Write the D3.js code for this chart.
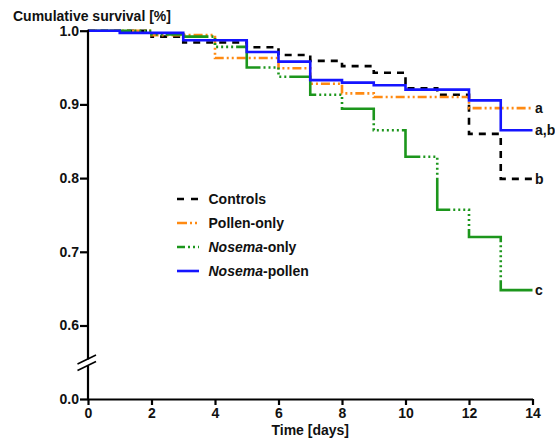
<!DOCTYPE html>
<html><head><meta charset="utf-8">
<script src="https://cdn.jsdelivr.net/npm/d3@7"></script>
<style>body{margin:0;background:#fff}svg text{font-family:"Liberation Sans",Arial,sans-serif;font-weight:bold;fill:#111}</style>
</head><body><svg id="c" width="555" height="439"></svg>
<script>
// ---- data ----
const days = [0,1,2,3,4,5,6,7,8,9,10,11,12,13,14];
const controls     = [1,1,0.992,0.984,0.984,0.9775,0.967,0.959,0.952,0.943,0.922,0.913,0.860,0.799,0.799];
const pollenOnly   = [1,1,0.994,0.994,0.963,0.963,0.949,0.928,0.915,0.910,0.910,0.910,0.895,0.895,0.895];
const nosemaOnly   = [1,1,0.995,0.992,0.978,0.950,0.9375,0.913,0.894,0.865,0.829,0.757,0.720,0.648,0.648];
const nosemaPollen = [1,0.997,0.997,0.987,0.987,0.971,0.958,0.933,0.9295,0.926,0.920,0.920,0.9055,0.865,0.865];
const seriesNames  = ["Controls","Pollen-only","Nosema-only","Nosema-pollen"];
const sigLabels    = ["b","a","c","a,b"];
const xTicks = [0,2,4,6,8,10,12,14];
const yTicksUpper = [0.6,0.7,0.8,0.9,1.0];
const yTicksLower = [0.0];

// ---- layout ----
const svg = d3.select("#c");
const x = d3.scaleLinear().domain([0,14]).range([88,532.5]);
const yU = d3.scaleLinear().domain([0.6,1.0]).range([325.5,30.7]);
const yL = d3.scaleLinear().domain([0,0.1]).range([399,372]);
const axisX = 88, axisY = 399;

const styles = [
  {color:"#000000", dash:"7,6", legendDash:"7,7"},
  {color:"#ff8a12", dash:"9,3,2,3,2,3", legendDash:"10,3,2,3,2,3"},
  {color:"#1c961c", dash:"45,3,2,3,2,3,2,3,2,3,2,3,2,3,2,3", legendDash:"8,3,2,3,2,3,2,3"},
  {color:"#1515ff", dash:null, legendDash:null}
];
const allSeries = [controls,pollenOnly,nosemaOnly,nosemaPollen];

// ---- curves ----
const line = d3.line().x((d,i)=>x(days[i])).y(d=>yU(d)).curve(d3.curveStepAfter);
// green phase: solid run begins 20px past the day-6 corner
const LA = (x(6)-x(0)) + (yU(nosemaOnly[5]) - yU(1)) + 20;
const greenPeriod = 83;
allSeries.forEach((s,k)=>{
  const p = svg.append("path").attr("d", line(s)).attr("fill","none")
    .attr("stroke", styles[k].color).attr("stroke-width", 2.6);
  if (styles[k].dash) p.attr("stroke-dasharray", styles[k].dash);
  if (k===2) p.attr("stroke-dashoffset", greenPeriod - (LA % greenPeriod));
});

// ---- axes ----
const gx = svg.append("g").attr("transform",`translate(0,${axisY})`)
  .call(d3.axisBottom(x).tickValues(xTicks).tickFormat(d3.format("d")).tickSize(6).tickSizeOuter(0).tickPadding(3));
const gyU = svg.append("g").attr("transform",`translate(${axisX},0)`)
  .call(d3.axisLeft(yU).tickValues(yTicksUpper).tickFormat(d3.format(".1f")).tickSize(8).tickPadding(1));
const gyL = svg.append("g").attr("transform",`translate(${axisX},0)`)
  .call(d3.axisLeft(yL).tickValues(yTicksLower).tickFormat(d3.format(".1f")).tickSize(8).tickPadding(1));
[gyU,gyL].forEach(g=>g.select(".domain").remove());
[gx,gyU,gyL].forEach(g=>{
  g.selectAll("line,path").attr("stroke","#000").attr("stroke-width",2.2);
  g.selectAll("text").attr("font-size",14).attr("font-family",'"Liberation Sans",Arial,sans-serif').attr("font-weight","bold").attr("fill","#111");
});
// y axis with break
svg.append("line").attr("x1",axisX).attr("x2",axisX).attr("y1",yU(1.0)-1).attr("y2",359.5).attr("stroke","#000").attr("stroke-width",2.2);
svg.append("line").attr("x1",axisX).attr("x2",axisX).attr("y1",366).attr("y2",axisY+1).attr("stroke","#000").attr("stroke-width",2.2);
[[364,355],[370.5,361.5]].forEach(([a,b])=>{
  svg.append("line").attr("x1",77.5).attr("y1",a).attr("x2",96).attr("y2",b).attr("stroke","#000").attr("stroke-width",1.6);
});

// ---- titles ----
svg.append("text").attr("x",13).attr("y",21).attr("font-size",14).text("Cumulative survival [%]");
svg.append("text").attr("x",(x(0)+x(14))/2).attr("y",435).attr("text-anchor","middle").attr("font-size",14).text("Time [days]");

// ---- significance labels ----
allSeries.forEach((s,k)=>{
  svg.append("text").attr("x",535).attr("y",yU(s[s.length-1])+5).attr("font-size",14).text(sigLabels[k]);
});

// ---- legend ----
const legY = [199,223,247,271];
seriesNames.forEach((n,k)=>{
  const l = svg.append("line").attr("x1",177).attr("x2",199).attr("y1",legY[k]).attr("y2",legY[k])
    .attr("stroke",styles[k].color).attr("stroke-width",2.6);
  if (styles[k].legendDash) l.attr("stroke-dasharray",styles[k].legendDash);
  const t = svg.append("text").attr("x",208.5).attr("y",legY[k]+5).attr("font-size",14);
  if (n.startsWith("Nosema")) {
    t.append("tspan").attr("font-style","italic").text("Nosema");
    t.append("tspan").text(n.slice(6));
  } else t.text(n);
});
</script></body></html>
